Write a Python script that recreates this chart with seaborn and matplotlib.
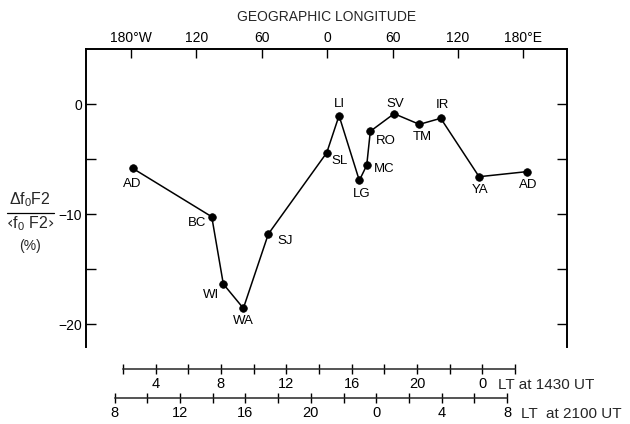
import numpy as np
import pandas as pd
import matplotlib
matplotlib.use("Agg")
import matplotlib.pyplot as plt
from matplotlib.lines import Line2D
import seaborn as sns

# ---------------- data ----------------
stations = ["AD", "BC", "WI", "WA", "SJ", "SL", "LI", "LG", "MC", "RO",
            "SV", "TM", "IR", "YA", "AD"]
longitude = [-178.4, -105.9, -95.3, -76.9, -54.0, -0.4, 10.9, 29.5, 36.3,
             39.6, 61.4, 84.6, 104.2, 139.4, 183.1]
delta_fof2 = [-5.85, -10.25, -16.36, -18.57, -11.82, -4.43, -1.06, -6.95,
              -5.57, -2.48, -0.88, -1.85, -1.30, -6.61, -6.15]

lon_ticks = [-180, -120, -60, 0, 60, 120, 180]
lon_labels = ["180°W", "120", "60", "0", "60", "120", "180°E"]
y_ticks = [0, -10, -20]
y_labels = ["0", "\u221210", "\u221220"]
y_minor = [-5, -15]
lt1430_ticks = list(range(2, 27, 2))
lt2100_ticks = list(range(8, 33, 2))

# label offsets (pixels, dx right, dy down) -- layout only
label_offsets = [(-1, 16), (-15, 6), (-12, 11), (0, 13), (17, 7), (13, 8),
                 (0, -12), (2, 14), (17, 4), (15, 10), (1, -10), (3, 13),
                 (2, -13), (1, 13), (2, 13)]

# ---------------- style ----------------
sns.set_theme(style="ticks")
plt.rcParams["font.family"] = ["Liberation Sans", "DejaVu Sans"]
plt.rcParams["mathtext.default"] = "regular"
plt.rcParams["axes.linewidth"] = 1.4

W, H = 630, 424
fig = plt.figure(figsize=(W / 100, H / 100), dpi=100)
left, right, top, bottom = 86, 566.7, 49, 347
ax = fig.add_axes([left / W, 1 - bottom / H, (right - left) / W, (bottom - top) / H])

df = pd.DataFrame({"lon": longitude, "val": delta_fof2, "station": stations})
sns.lineplot(data=df, x="lon", y="val", ax=ax, color="black", linewidth=1.1,
             marker="o", markersize=5.5, markeredgecolor="black",
             markeredgewidth=0.5, sort=False, estimator=None)

for (st, x, y), (dx, dy) in zip(zip(stations, longitude, delta_fof2), label_offsets):
    ax.annotate(st, (x, y), xytext=(dx, -dy), textcoords="offset pixels",
                ha="center", va="center", fontsize=9.5, color="black")

ax.set_xlim(-221.3, 219.8)
ax.set_ylim(-22.09, 5.0)

# top longitude axis
ax.xaxis.tick_top()
ax.xaxis.set_label_position("top")
ax.set_xticks(lon_ticks)
ax.set_xticklabels(lon_labels, fontsize=10)
ax.set_xlabel("GEOGRAPHIC LONGITUDE", fontsize=10, labelpad=7)
ax.tick_params(axis="x", direction="in", length=6.5, width=1.0, pad=3,
               top=True, bottom=False, labelbottom=False, colors="black")

# left / right y axis
ax.set_yticks(y_ticks)
ax.set_yticklabels(y_labels, fontsize=10)
ax.set_yticks(y_minor, minor=True)
ax.set_ylabel("")
ax.tick_params(axis="y", which="both", direction="in", length=7, width=1.0,
               pad=3, left=True, right=True, labelright=False, colors="black")
ax.spines["bottom"].set_visible(False)
for s in ["left", "right", "top"]:
    ax.spines[s].set_color("black")

# y-axis label as a fraction
fig.text(30 / W, 1 - 200 / H, "$\\Delta f_0F2$", fontsize=11.5, ha="center", va="center")
fig.add_artist(Line2D([7 / W, 54 / W], [1 - 213 / H, 1 - 213 / H],
                      transform=fig.transFigure, color="black", lw=0.9))
fig.text(30 / W, 1 - 224 / H, "$\u2039f_0\\ F2\u203a$", fontsize=11.5, ha="center", va="center")
fig.text(30 / W, 1 - 246 / H, "(%)", fontsize=10, ha="center", va="center")

# local-time axes below
ax_h = bottom - top


def lt1_fwd(x):
    return 14.5 + np.asarray(x) / 15.0


def lt1_inv(t):
    return (np.asarray(t) - 14.5) * 15.0


def lt2_fwd(x):
    return 21.0 + np.asarray(x) / 15.0


def lt2_inv(t):
    return (np.asarray(t) - 21.0) * 15.0


sec1 = ax.secondary_xaxis((bottom - 369.3) / ax_h, functions=(lt1_fwd, lt1_inv))
sec1.set_xticks(lt1430_ticks)
sec1.set_xticklabels([str(t % 24) if t % 4 == 0 else "" for t in lt1430_ticks], fontsize=10.5)
sec1.spines["bottom"].set_bounds(lt1430_ticks[0], lt1430_ticks[-1])
sec1.spines["bottom"].set_linewidth(1.1)
sec1.tick_params(direction="inout", length=7, width=1.0, pad=2, colors="black")

sec2 = ax.secondary_xaxis((bottom - 398.3) / ax_h, functions=(lt2_fwd, lt2_inv))
sec2.set_xticks(lt2100_ticks)
sec2.set_xticklabels([str(t % 24) if t % 4 == 0 else "" for t in lt2100_ticks], fontsize=10.5)
sec2.spines["bottom"].set_bounds(lt2100_ticks[0], lt2100_ticks[-1])
sec2.spines["bottom"].set_linewidth(1.1)
sec2.tick_params(direction="inout", length=7, width=1.0, pad=2, colors="black")

fig.text(498 / W, 1 - 385 / H, "LT at 1430 UT", fontsize=11, ha="left", va="center")
fig.text(521 / W, 1 - 414 / H, "LT  at 2100 UT", fontsize=11, ha="left", va="center")

fig.savefig("out.png", dpi=100, facecolor="white")
